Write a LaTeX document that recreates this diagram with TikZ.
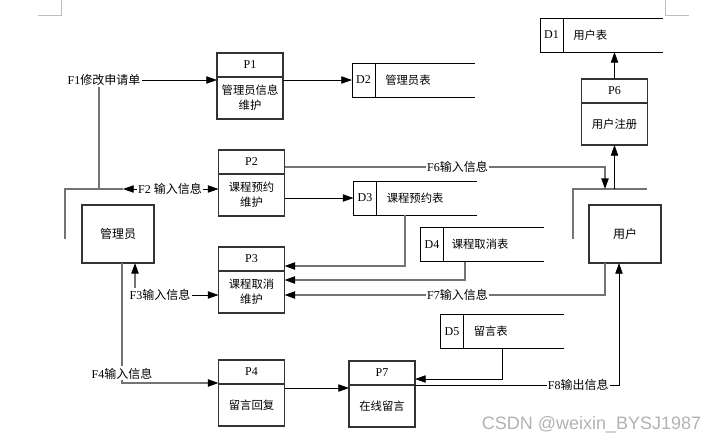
\documentclass[tikz,border=0pt]{standalone}
\usepackage{fontspec}
\setmainfont{Liberation Serif}
\newfontfamily\cjk{Noto Sans CJK SC}
\newfontfamily\wmfont{Liberation Sans}
\usetikzlibrary{arrows.meta,positioning}
\newcommand{\lblfont}{\fontsize{9pt}{11pt}\selectfont}
\newcommand{\boxfont}{\fontsize{8.5pt}{11.25pt}\selectfont}
\newcommand{\zh}[1]{{\cjk #1}}

\begin{document}
\begin{tikzpicture}[x=0.75pt,y=-0.75pt,
  boxline/.style={draw=black!80,line width=0.8pt},
  procbox/.style={boxline,minimum width=49.5pt,minimum height=49.5pt,inner sep=0pt,outer sep=0pt},
  procid/.style={boxline,minimum width=49.5pt,minimum height=18pt,inner sep=0pt,outer sep=0pt,font=\lblfont},
  proctext/.style={minimum width=49.5pt,minimum height=31.5pt,inner sep=0pt,outer sep=0pt,align=center,font=\boxfont\cjk},
  store/.style={minimum width=92.25pt,minimum height=25.5pt,inner sep=0pt,outer sep=0pt},
  storeline/.style={draw=black,line width=0.6pt},
  storeid/.style={storeline,minimum width=17.25pt,minimum height=25.5pt,inner sep=0pt,outer sep=0pt,font=\lblfont},
  storetext/.style={inner sep=0pt,font=\boxfont\cjk},
  entity/.style={boxline,minimum width=54pt,minimum height=43.5pt,inner sep=0pt,outer sep=0pt,font=\lblfont\cjk},
  lbl/.style={fill=white,inner sep=1pt,font=\lblfont},
  gline/.style={draw=black!55,line width=1pt},
  arr/.style={draw=black,line width=0.6pt,-{Triangle[length=8pt,width=5.5pt]}},
  garr/.style={gline,-{Triangle[length=8pt,width=5.5pt,color=black]}}]
\useasboundingbox (0,0) rectangle (720,444);

% page corner marks
\draw[black!25,line width=0.75pt] (38,15) -- (61,15) -- (61,0);
\draw[black!25,line width=0.75pt] (665,0) -- (665,15) -- (689,15);

% processes
\node[procbox] (p1) at (250,86) {};
\node[procid,below=0pt of p1.north] (p1id) {P1};
\node[proctext,below=0pt of p1id] (p1txt) {管理员信息\\维护};
\node[procbox] (p2) at (251.5,183) {};
\node[procid,below=0pt of p2.north] (p2id) {P2};
\node[proctext,below=0pt of p2id] (p2txt) {课程预约\\维护};
\node[procbox] (p3) at (251.5,280) {};
\node[procid,below=0pt of p3.north] (p3id) {P3};
\node[proctext,below=0pt of p3id] (p3txt) {课程取消\\维护};
\node[procbox] (p4) at (251.5,393) {};
\node[procid,below=0pt of p4.north] (p4id) {P4};
\node[proctext,below=0pt of p4id] (p4txt) {留言回复};
\node[procbox] (p6) at (614.5,112) {};
\node[procid,below=0pt of p6.north] (p6id) {P6};
\node[proctext,below=0pt of p6id] (p6txt) {用户注册};
\node[procbox] (p7) at (382,394) {};
\node[procid,below=0pt of p7.north] (p7id) {P7};
\node[proctext,below=0pt of p7id] (p7txt) {在线留言};

% data stores
\node[store] (d1) at (601.5,35) {};
\node[storeid,right=0pt of d1.west] (d1id) {D1};
\node[storetext,right=7.5pt of d1id] (d1txt) {用户表};
\draw[storeline] (d1.north east) -- (d1.north west) -- (d1.south west) -- (d1.south east);
\node[store] (d2) at (413.5,80) {};
\node[storeid,right=0pt of d2.west] (d2id) {D2};
\node[storetext,right=7.5pt of d2id] (d2txt) {管理员表};
\draw[storeline] (d2.north east) -- (d2.north west) -- (d2.south west) -- (d2.south east);
\node[store] (d3) at (415,198) {};
\node[storeid,right=0pt of d3.west] (d3id) {D3};
\node[storetext,right=7.5pt of d3id] (d3txt) {课程预约表};
\draw[storeline] (d3.north east) -- (d3.north west) -- (d3.south west) -- (d3.south east);
\node[store] (d4) at (482,244.5) {};
\node[storeid,right=0pt of d4.west] (d4id) {D4};
\node[storetext,right=6pt of d4id] (d4txt) {课程取消表};
\draw[storeline] (d4.north east) -- (d4.north west) -- (d4.south west) -- (d4.south east);
\node[store] (d5) at (502,331.5) {};
\node[storeid,right=0pt of d5.west] (d5id) {D5};
\node[storetext,right=7.5pt of d5id] (d5txt) {留言表};
\draw[storeline] (d5.north east) -- (d5.north west) -- (d5.south west) -- (d5.south east);

% external entities
\node[entity] (adm) at (118,234) {管理员};
\node[entity] (usr) at (625,234) {用户};
\coordinate (admA) at (65,239);
\coordinate (admB) at (65,189);
\coordinate (admC) at (123,189);
\coordinate (usrA) at (573,239);
\coordinate (usrB) at (573,189);
\coordinate (usrC) at (647,189);
\draw[gline] (admA) -- (admB) -- (admC);
\draw[gline] (usrA) -- (usrB) -- (usrC);

% flows
\node[lbl] (f1) at (104,80) {F1\zh{修改申请单}};
\node[lbl] (f2) at (170,189) {F2 \zh{输入信息}};
\node[lbl] (f3) at (160,295) {F3\zh{输入信息}};
\coordinate (f1foot) at (99,189);
\coordinate (f6end) at (605,189);
\coordinate (f3up) at ([xshift=-18.75pt]f3.north);
\coordinate (p4out) at ([yshift=3.75pt]p4.east);

\draw[arr] (f1.east) -- (f1.east -| p1.west);
\draw[gline] (f1foot) -- (f1foot |- f1.south);
\draw[arr] (f2.west) -- (admC);
\draw[arr] (f2.east) -- (f2.east -| p2.west);
\draw[arr] (p1.east |- d2.west) -- (d2.west);
\draw[garr] ([yshift=-12.75pt]p2.north east) -| node[lbl,pos=0.27] {F6\zh{输入信息}} (f6end);
\draw[arr] (p6.north) -- (p6.north |- d1.south);
\draw[arr] (p6.south |- usrB) -- (p6.south);
\draw[arr] (p2.east |- d3.west) -- (d3.west);
\draw[garr] ([xshift=-7.5pt]d3.south) |- ([yshift=10.5pt]p3.east);
\draw[garr] ([xshift=-12.75pt]d4.south) |- (p3.east);
\draw[garr] ([xshift=-15pt]usr.south) |- node[lbl,pos=0.73] {F7\zh{输入信息}} ([yshift=-11.25pt]p3.east);
\draw[arr] (f3.east) -- (f3.east -| p3.west);
\draw[garr] (f3up) -- (f3up |- adm.south);
\draw[garr] ([xshift=3pt]adm.south) |- node[lbl,pos=0.46] {F4\zh{输入信息}} ([yshift=7.5pt]p4.west);
\draw[arr] (p4out) -- (p4out -| p7.west);
\draw[arr] (d5.south) |- ([yshift=11.25pt]p7.east);
\draw[arr] ([yshift=6.75pt]p7.east) -| node[lbl,pos=0.4] {F8\zh{输出信息}} ([xshift=-4.5pt]usr.south);

% watermark
\node[font=\wmfont\fontsize{13.5pt}{15pt}\selectfont,text=black!30,anchor=east] (wm) at (706,425) {CSDN @weixin\_BYSJ1987};
\end{tikzpicture}
\end{document}
